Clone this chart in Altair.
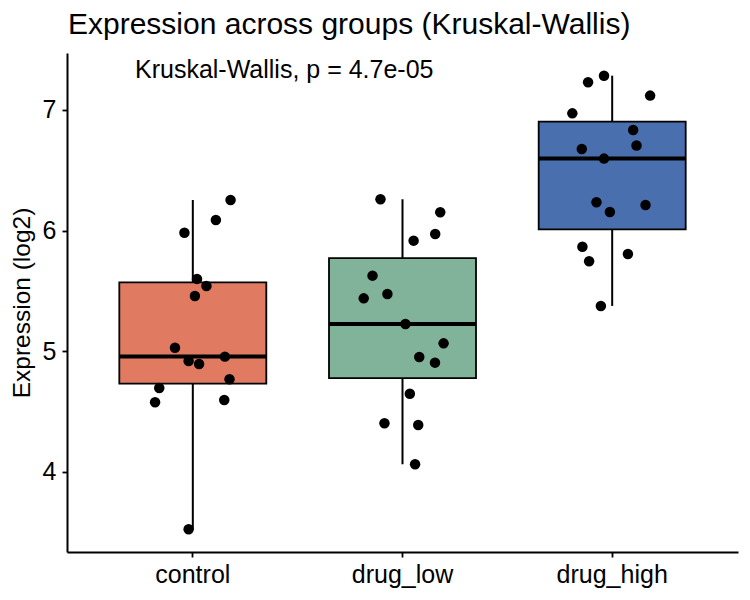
import altair as alt
import pandas as pd

# Expression values (log2) per group, with the horizontal jitter of each point
# expressed as a fraction of the category band.
groups = ["control", "drug_low", "drug_high"]
colors = ["#E07B62", "#81B29A", "#4A6FAE"]

control_vals = [6.254, 6.088, 5.983, 5.600, 5.541, 5.459, 5.030, 4.956,
                4.920, 4.895, 4.768, 4.696, 4.578, 4.597, 3.525]
control_jit = [0.18, 0.11, -0.04, 0.02, 0.065, 0.01, -0.085, 0.153,
               -0.02, 0.03, 0.175, -0.16, -0.18, 0.15, -0.02]

low_vals = [6.260, 6.152, 5.972, 5.917, 5.627, 5.475, 5.439, 5.227,
            5.066, 4.953, 4.906, 4.649, 4.404, 4.390, 4.064]
low_jit = [-0.105, 0.18, 0.156, 0.053, -0.143, -0.072, -0.185, 0.014,
           0.196, 0.08, 0.155, 0.035, -0.086, 0.075, 0.06]

high_vals = [7.284, 7.229, 7.119, 6.972, 6.834, 6.705, 6.677, 6.597,
             6.235, 6.213, 6.155, 5.867, 5.807, 5.746, 5.376]
high_jit = [-0.039, -0.115, 0.181, -0.19, 0.10, 0.116, -0.145, -0.039,
            -0.075, 0.159, -0.011, -0.142, 0.075, -0.11, -0.054]

y_ticks = [4, 5, 6, 7]
y_domain = [3.337, 7.472]
test_label = "Kruskal-Wallis, p = 4.7e-05"
label_y = 7.332

rows = []
for g, vals, jit in [("control", control_vals, control_jit),
                     ("drug_low", low_vals, low_jit),
                     ("drug_high", high_vals, high_jit)]:
    for v, j in zip(vals, jit):
        rows.append({"group": g, "expr": v, "jitter": j})
df = pd.DataFrame(rows)

FONT = "Liberation Sans"

x_enc = alt.X(
    "group:N",
    sort=groups,
    scale=alt.Scale(paddingInner=0, paddingOuter=0.1),
    axis=alt.Axis(title=None, labelAngle=0, labelFontSize=25,
                  labelBaseline="alphabetic", labelPadding=25),
)
y_enc = alt.Y(
    "expr:Q",
    scale=alt.Scale(domain=y_domain, nice=False, zero=False),
    axis=alt.Axis(title="Expression (log2)", values=y_ticks, format="d",
                  grid=False, labelFontSize=25, labelPadding=6,
                  titleFontSize=24.5, titleFontWeight="normal", titleX=-45,
                  titleY=249.5, titleBaseline="middle", titleAlign="center"),
)

boxes = alt.Chart(df).mark_boxplot(
    extent=1.5,
    size=147,
    ticks=False,
    outliers=False,
    box={"stroke": "black", "strokeWidth": 1.8},
    median={"color": "black", "thickness": 4, "opacity": 1},
    rule={"color": "black", "strokeWidth": 2},
).encode(
    x=x_enc,
    y=y_enc,
    color=alt.Color("group:N", scale=alt.Scale(domain=groups, range=colors),
                    legend=None),
)

points = alt.Chart(df).mark_circle(size=110, color="black", opacity=1).encode(
    x=x_enc,
    xOffset=alt.XOffset("jitter:Q", scale=alt.Scale(domain=[-0.5, 0.5])),
    y=y_enc,
)

label_df = pd.DataFrame({"expr": [label_y], "text": [test_label]})
label = alt.Chart(label_df).mark_text(
    align="left", baseline="middle", fontSize=25, font=FONT, color="black"
).encode(
    x=alt.value(68),
    y=alt.Y("expr:Q"),
    text="text:N",
)

chart = alt.layer(boxes, points, label).properties(
    width=671,
    height=499,
    title=alt.Title(
        "Expression across groups (Kruskal-Wallis)",
        anchor="start", frame="group", baseline="alphabetic", offset=20,
        dy=31, dx=1,
        fontSize=30, fontWeight="normal", font=FONT, color="black",
    ),
    autosize=alt.AutoSizeParams(type="none"),
    padding={"left": 67, "top": 53, "right": 12, "bottom": 48},
).configure_view(
    stroke=None
).configure_axis(
    labelFont=FONT, titleFont=FONT, labelColor="black", titleColor="black",
    domainColor="black", domainWidth=2, tickColor="black", tickWidth=1.8,
    tickSize=5,
)

chart.save("out.html", embed_options={"renderer": "svg", "actions": False})
